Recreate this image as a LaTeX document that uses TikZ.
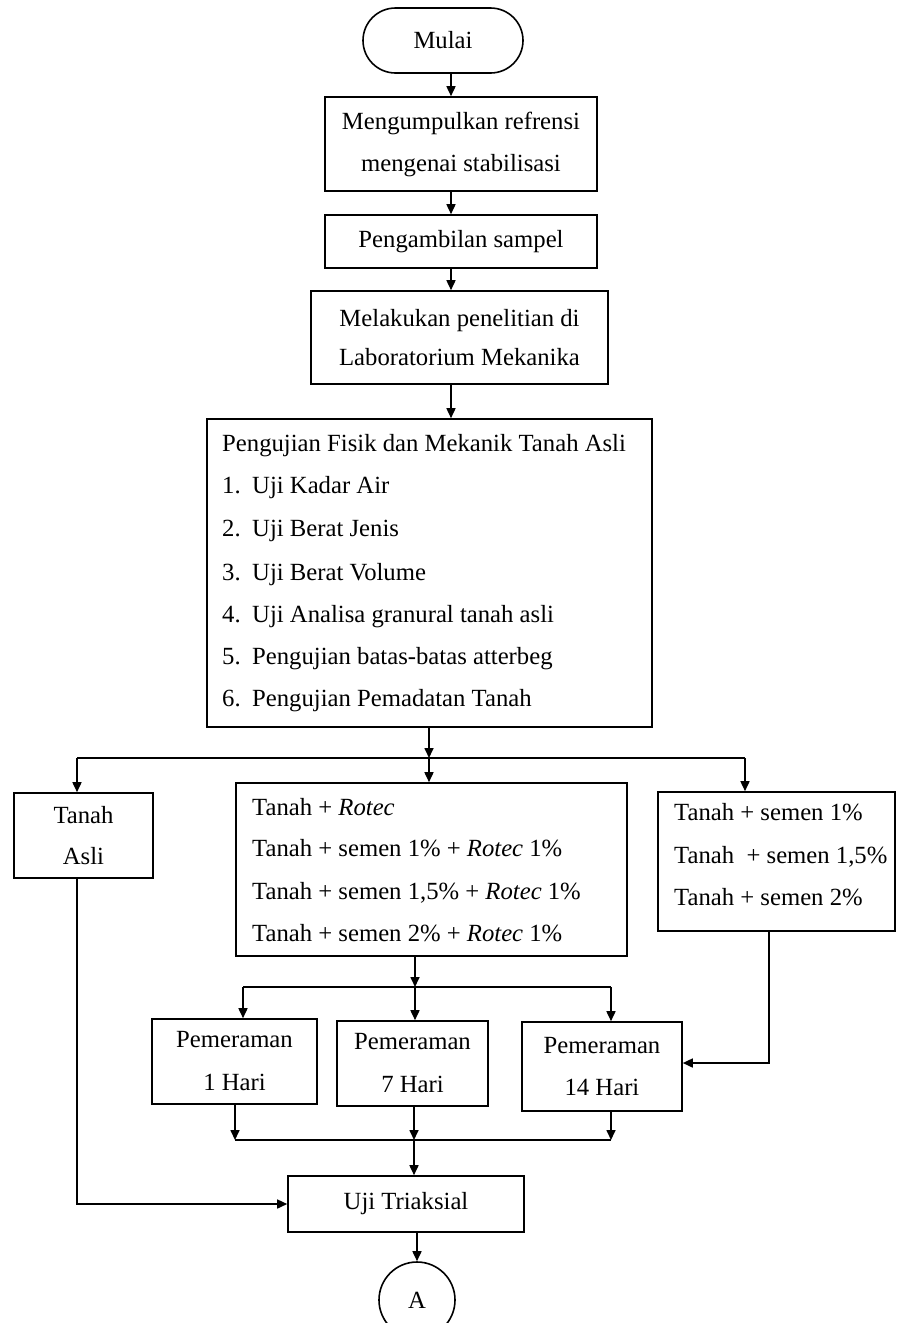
\documentclass[tikz,border=0pt]{standalone}
\usepackage{fontspec}
\setmainfont{Liberation Serif}
\usetikzlibrary{arrows.meta}
\begin{document}
\begin{tikzpicture}[x=1pt,y=-1pt,
  every node/.style={font=\fontsize{24.7}{42}\selectfont, inner sep=0pt},
  box/.style={draw, line width=1.6pt, rectangle, align=center},
  arr/.style={line width=1.6pt, -{Triangle[length=10pt,width=9pt]}},
  ln/.style={line width=1.6pt},
  txt/.style={anchor=base west}
]
\fill[white] (0,0) rectangle (897,1323);
\useasboundingbox (0,0) rectangle (897,1323);

% top chain
\node[box, rounded corners=32.5pt, minimum width=160pt, minimum height=65pt] (mulai) at (443,40.5) {Mulai};
\node[box, minimum width=272pt, minimum height=94pt] (b1) at (461,144) {Mengumpulkan refrensi\\mengenai stabilisasi};
\node[box, minimum width=272pt, minimum height=53pt] (b2) at (461,241.5) {Pengambilan sampel};
\node[box, minimum width=297pt, minimum height=93pt, font=\fontsize{24.7}{39}\selectfont] (b3) at (459.5,337.5) {Melakukan penelitian di\\Laboratorium Mekanika};
\node[box, minimum width=445pt, minimum height=308pt] (b4) at (429.5,573) {};
\node[txt] (h4) at (222,451) {Pengujian Fisik dan Mekanik Tanah Asli};
\node[txt] (i1) at (222,493) {\makebox[30pt][l]{1.}Uji Kadar Air};
\node[txt] (i2) at (222,536) {\makebox[30pt][l]{2.}Uji Berat Jenis};
\node[txt] (i3) at (222,580) {\makebox[30pt][l]{3.}Uji Berat Volume};
\node[txt] (i4) at (222,622) {\makebox[30pt][l]{4.}Uji Analisa granural tanah asli};
\node[txt] (i5) at (222,664) {\makebox[30pt][l]{5.}Pengujian batas-batas atterbeg};
\node[txt] (i6) at (222,706) {\makebox[30pt][l]{6.}Pengujian Pemadatan Tanah};

\coordinate (c1) at (451,0);
\draw[arr] (mulai.south -| c1) -- (b1.north -| c1);
\draw[arr] (b1.south -| c1) -- (b2.north -| c1);
\draw[arr] (b2.south -| c1) -- (b3.north -| c1);
\draw[arr] (b3.south -| c1) -- (b4.north -| c1);

% second level
\node[box, minimum width=139pt, minimum height=85pt, font=\fontsize{24.7}{41}\selectfont] (ta) at (83.5,835.5) {Tanah\\Asli};
\node[box, minimum width=391pt, minimum height=173pt] (mid) at (431.5,869.5) {};
\node[txt] (m1) at (252,815) {Tanah + \textit{Rotec}};
\node[txt] (m2) at (252,856) {Tanah + semen 1\% + \textit{Rotec} 1\%};
\node[txt] (m3) at (252,899) {Tanah + semen 1,5\% + \textit{Rotec} 1\%};
\node[txt] (m4) at (252,941) {Tanah + semen 2\% + \textit{Rotec} 1\%};
\node[box, minimum width=237pt, minimum height=139pt] (rt) at (776.5,861.5) {};
\node[txt] (r1t) at (674,820) {Tanah + semen 1\%};
\node[txt] (r2t) at (674,863) {Tanah\ \ + semen 1,5\%};
\node[txt] (r3t) at (674,905) {Tanah + semen 2\%};

\coordinate (j1) at (429,758);
\coordinate (jl) at (77,758);
\coordinate (jr) at (745,758);
\draw[arr] (b4.south -| j1) -- (j1);
\draw[ln] (jl) -- (jr);
\draw[arr] (jl) -- (ta.north -| jl);
\draw[arr] (j1) -- (mid.north -| j1);
\draw[arr] (jr) -- (rt.north -| jr);

% pemeraman
\node[box, minimum width=165pt, minimum height=85pt, font=\fontsize{24.7}{43}\selectfont] (pa) at (234.5,1061.5) {Pemeraman\\1 Hari};
\node[box, minimum width=151pt, minimum height=85pt, font=\fontsize{24.7}{43}\selectfont] (pb) at (412.5,1063.5) {Pemeraman\\7 Hari};
\node[box, minimum width=160pt, minimum height=89pt, font=\fontsize{24.7}{42}\selectfont] (pc) at (602,1066.5) {Pemeraman\\14 Hari};

\coordinate (j2) at (415,987);
\coordinate (j2l) at (243,987);
\coordinate (j2r) at (611,987);
\draw[arr] (mid.south -| j2) -- (j2);
\draw[ln] (j2l) -- (j2r);
\draw[arr] (j2l) -- (pa.north -| j2l);
\draw[arr] (j2) -- (pb.north -| j2);
\draw[arr] (j2r) -- (pc.north -| j2r);

\coordinate (rc) at (769,1063);
\draw[arr] (rt.south -| rc) -- (rc) -- (pc.east |- rc);

% merge
\node[box, minimum width=236pt, minimum height=56pt] (uji) at (406,1204) {Uji Triaksial};
\coordinate (m) at (414,1140);
\coordinate (ml) at (235,1140);
\coordinate (mr) at (611,1140);
\draw[arr] (pa.south -| ml) -- (ml);
\draw[arr] (pb.south -| m) -- (m);
\draw[arr] (pc.south -| mr) -- (mr);
\draw[ln] (ml) -- (mr);
\draw[arr] (m) -- (uji.north -| m);

\coordinate (t1) at (77,1204);
\draw[arr] (ta.south -| t1) -- (t1) -- (uji.west |- t1);

\node[draw, circle, line width=1.6pt, minimum size=76pt] (circ) at (417,1300) {A};
\draw[arr] (uji.south -| circ) -- (circ.north);
\end{tikzpicture}
\end{document}
